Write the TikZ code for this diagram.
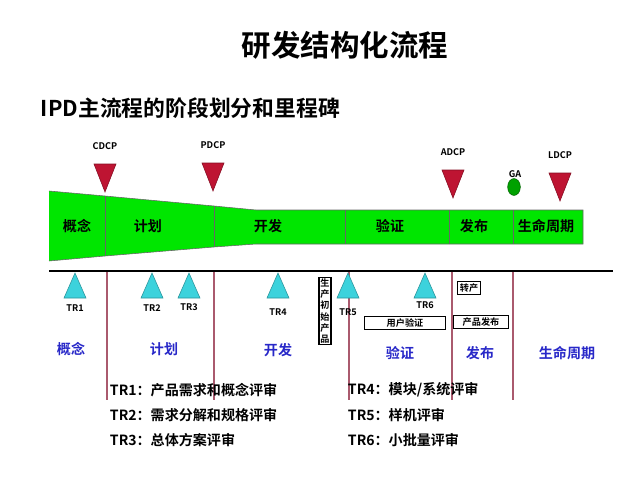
\documentclass[tikz,border=0pt]{standalone}
\usepackage{fontspec}
\setmainfont{Noto Sans CJK SC}[BoldFont={Noto Sans CJK SC Bold}]
\usetikzlibrary{shapes.geometric}
\definecolor{bandgreen}{RGB}{0,230,0}
\definecolor{msred}{RGB}{190,20,50}
\definecolor{trcyan}{RGB}{60,210,220}
\definecolor{phaseblue}{RGB}{40,40,200}
\definecolor{sepred}{RGB}{170,90,110}
\begin{document}
\begin{tikzpicture}[
    x=0.025cm, y=-0.025cm,
    milestone/.style={fill=msred, draw=msred!70!black},
    review/.style={fill=trcyan, draw=trcyan!70!black},
    phase/.style={font=\bfseries\fontsize{10}{12}\selectfont},
    bluephase/.style={font=\bfseries\fontsize{10}{12}\selectfont, text=phaseblue},
    tag/.style={font=\bfseries\fontsize{6.5}{8}\selectfont},
    smallbox/.style={draw, thick, font=\bfseries\fontsize{6.5}{8}\selectfont, inner sep=1.5pt},
    legend/.style={font=\bfseries\fontsize{10}{12}\selectfont, anchor=west},
    sep/.style={sepred, thick}
  ]
\useasboundingbox (0,0) rectangle (640,480);
% titles
\node (title) at (345,45) {\bfseries\fontsize{21}{25}\selectfont 研发结构化流程};
\node[anchor=west] (subtitle) at (36,108) {\bfseries\fontsize{15.5}{19}\selectfont IPD主流程的阶段划分和里程碑};
% green band
\fill[bandgreen] (49,191) -- (105,196) -- (214,206) -- (256,210) -- (583,210)
  -- (583,244) -- (256,244) -- (214,247) -- (105,256) -- (49,261) -- cycle;
\draw[black!60] (49,191) -- (105,196) -- (214,206) -- (256,210) -- (583,210)
  -- (583,244) -- (256,244) -- (214,247) -- (105,256) -- (49,261);
\foreach \xa/\ya/\yb in {105/196/256, 214/206/247, 345/210/244, 449/210/244, 513/210/244}
  \draw[black!60] (\xa,\ya) -- (\xa,\yb);
\node[phase] (p1) at (77,226) {概念};
\node[phase] (p2) at (148,226) {计划};
\node[phase] (p3) at (268,226) {开发};
\node[phase] (p4) at (390,226) {验证};
\node[phase] (p5) at (474,226) {发布};
\node[phase] (p6) at (546,226) {生命周期};
% decision points
\foreach \xm/\ym/\lab/\nm in {105/146/CDCP/cdcp, 213/145/PDCP/pdcp, 453/152/ADCP/adcp, 560/155/LDCP/ldcp} {
  \node[tag] (\nm) at (\xm,\ym) {\lab};
  \fill[milestone] (\xm-11,\ym+18) -- (\xm+11,\ym+18) -- (\xm,\ym+46) -- cycle;
}
\node[tag] (ga) at (515,174) {GA};
\node[ellipse, fill=bandgreen!70!black, draw=green!40!black, minimum width=9pt, minimum height=12pt, inner sep=0pt] (gadot) at (514,187) {};
% time line
\coordinate (lineL) at (49,271);
\coordinate (lineR) at (613,271);
\draw[thick] (lineL) -- (lineR);
\foreach \xs in {107,214,349,452,513}
  \draw[sep] (\xs,272) -- (\xs,400);
% technical reviews
\foreach \xt/\yl/\lab in {75/308/TR1, 152/308/TR2, 189/307/TR3, 278/312/TR4, 348/312/TR5, 425/305/TR6} {
  \fill[review] (\xt-11,298) -- (\xt+11,298) -- (\xt,273) -- cycle;
  \node[tag] at (\xt,\yl) {\lab};
}
\node[smallbox, text width=6.5pt, align=center, inner sep=1pt] (pilot) at (325,311) {生\\产\\初\\始\\产\\品};
\node[smallbox, minimum width=65\pgflinewidth] (uservr) at (405,323) {\makebox[54pt]{用户验证}};
\node[smallbox] (trans) at (469,288) {转产};
\node[smallbox] (release) at (481,322) {\makebox[36pt]{产品发布}};
% lower phase names
\node[bluephase] (b1) at (71,349) {概念};
\node[bluephase] (b2) at (164,349) {计划};
\node[bluephase] (b3) at (278,350) {开发};
\node[bluephase] (b4) at (400,353) {验证};
\node[bluephase] (b5) at (480,353) {发布};
\node[bluephase] (b6) at (567,353) {生命周期};
% legend
\node[legend] (l1) at (105,390) {TR1：产品需求和概念评审};
\node[legend] (l2) at (105,415) {TR2：需求分解和规格评审};
\node[legend] (l3) at (105,440) {TR3：总体方案评审};
\node[legend] (l4) at (343,390) {TR4：模块/系统评审};
\node[legend] (l5) at (343,415) {TR5：样机评审};
\node[legend] (l6) at (343,440) {TR6：小批量评审};
\end{tikzpicture}
\end{document}
